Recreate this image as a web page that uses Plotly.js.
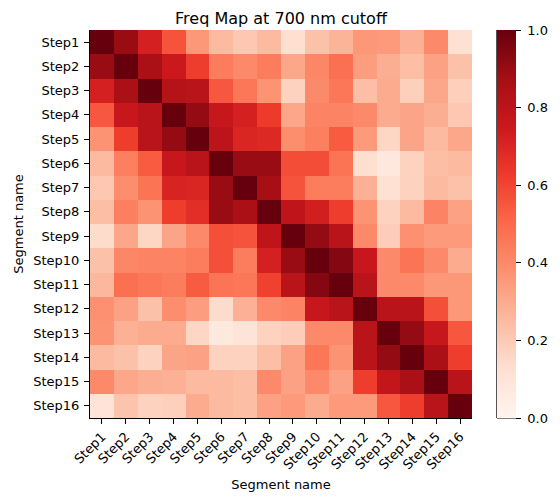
<!DOCTYPE html>
<html>
<head>
<meta charset="utf-8">
<script src="https://cdn.plot.ly/plotly-3.0.1.min.js"></script>
<style>
  html, body { margin: 0; padding: 0; background: #fff; }
  #chart { width: 560px; height: 502px; }
</style>
</head>
<body>
<div id="chart"></div>
<script>
// Segment labels (shared by both axes)
const segments = ["Step1", "Step2", "Step3", "Step4", "Step5", "Step6", "Step7", "Step8",
                  "Step9", "Step10", "Step11", "Step12", "Step13", "Step14", "Step15", "Step16"];

// Frequency similarity rows, one per segment
const step1  = [1.00, 0.90, 0.72, 0.56, 0.36, 0.25, 0.21, 0.25, 0.13, 0.23, 0.27, 0.36, 0.35, 0.28, 0.40, 0.12];
const step2  = [0.90, 1.00, 0.86, 0.75, 0.62, 0.44, 0.40, 0.44, 0.31, 0.41, 0.48, 0.34, 0.29, 0.24, 0.33, 0.23];
const step3  = [0.72, 0.86, 1.00, 0.82, 0.81, 0.55, 0.46, 0.37, 0.17, 0.40, 0.46, 0.24, 0.30, 0.18, 0.31, 0.18];
const step4  = [0.55, 0.76, 0.81, 1.00, 0.91, 0.77, 0.72, 0.63, 0.31, 0.42, 0.42, 0.40, 0.30, 0.32, 0.29, 0.21];
const step5  = [0.37, 0.62, 0.81, 0.91, 1.00, 0.80, 0.70, 0.69, 0.39, 0.43, 0.54, 0.35, 0.16, 0.32, 0.25, 0.31];
const step6  = [0.25, 0.43, 0.54, 0.76, 0.81, 1.00, 0.90, 0.90, 0.58, 0.58, 0.47, 0.13, 0.08, 0.17, 0.24, 0.25];
const step7  = [0.21, 0.39, 0.47, 0.71, 0.70, 0.90, 1.00, 0.87, 0.56, 0.44, 0.44, 0.28, 0.12, 0.17, 0.25, 0.23];
const step8  = [0.24, 0.43, 0.37, 0.62, 0.67, 0.90, 0.86, 1.00, 0.79, 0.73, 0.62, 0.37, 0.17, 0.25, 0.42, 0.33];
const step9  = [0.14, 0.31, 0.16, 0.32, 0.40, 0.57, 0.56, 0.79, 1.00, 0.91, 0.81, 0.40, 0.19, 0.38, 0.35, 0.35];
const step10 = [0.23, 0.41, 0.42, 0.42, 0.44, 0.57, 0.44, 0.72, 0.90, 1.00, 0.94, 0.76, 0.40, 0.47, 0.40, 0.30];
const step11 = [0.26, 0.48, 0.46, 0.44, 0.54, 0.47, 0.46, 0.61, 0.81, 0.94, 1.00, 0.81, 0.40, 0.40, 0.36, 0.36];
const step12 = [0.38, 0.33, 0.23, 0.39, 0.34, 0.14, 0.28, 0.40, 0.42, 0.76, 0.81, 1.00, 0.81, 0.81, 0.57, 0.36];
const step13 = [0.37, 0.28, 0.30, 0.30, 0.16, 0.07, 0.10, 0.17, 0.19, 0.40, 0.40, 0.81, 1.00, 0.91, 0.77, 0.55];
const step14 = [0.25, 0.23, 0.17, 0.32, 0.33, 0.17, 0.17, 0.24, 0.33, 0.46, 0.37, 0.81, 0.91, 1.00, 0.86, 0.62];
const step15 = [0.40, 0.31, 0.29, 0.28, 0.25, 0.25, 0.24, 0.40, 0.33, 0.40, 0.33, 0.62, 0.78, 0.86, 1.00, 0.81];
const step16 = [0.11, 0.22, 0.17, 0.18, 0.30, 0.25, 0.24, 0.33, 0.35, 0.30, 0.35, 0.35, 0.55, 0.62, 0.81, 1.00];

const freqMatrix = [step1, step2, step3, step4, step5, step6, step7, step8,
                    step9, step10, step11, step12, step13, step14, step15, step16];

// Sequential white-to-dark-red scale
const redScale = [
  [0.0,   "#fff5f0"],
  [0.125, "#fee0d2"],
  [0.25,  "#fcbba1"],
  [0.375, "#fc9272"],
  [0.5,   "#fb6a4a"],
  [0.625, "#ef3b2c"],
  [0.75,  "#cb181d"],
  [0.875, "#a50f15"],
  [1.0,   "#67000d"]
];

const font = "DejaVu Sans, sans-serif";
const cbX = 1.065;          // colorbar left edge (paper units)
const cbW = 0.05;           // colorbar width (paper units)

const trace = {
  type: "heatmap",
  z: freqMatrix,
  x: segments,
  y: segments,
  zmin: 0,
  zmax: 1,
  colorscale: redScale,
  hoverongaps: false,
  colorbar: {
    x: cbX,
    xanchor: "left",
    xpad: 0,
    y: 0,
    yanchor: "bottom",
    ypad: 0,
    len: 1,
    lenmode: "fraction",
    thickness: 19,
    thicknessmode: "pixels",
    outlinewidth: 0,
    ticks: "outside",
    ticklen: 5,
    tickwidth: 1,
    tickcolor: "#000",
    tick0: 0,
    dtick: 0.2,
    tickformat: ".1f",
    tickprefix: " ",
    tickfont: { family: font, size: 13, color: "#000" }
  }
};

const layout = {
  width: 560,
  height: 502,
  margin: { l: 90, r: 85, t: 30, b: 84 },
  paper_bgcolor: "#fff",
  plot_bgcolor: "#fff",
  title: {
    text: "Freq Map at 700 nm cutoff",
    font: { family: font, size: 16, color: "#000" },
    x: 0.5, xref: "paper", xanchor: "center",
    y: 1 - 18 / 502, yref: "container", yanchor: "middle"
  },
  xaxis: {
    type: "category",
    tickangle: -45,
    ticks: "outside",
    ticklen: 5,
    tickcolor: "#000",
    showline: true,
    linecolor: "#000",
    linewidth: 1,
    showgrid: false,
    zeroline: false,
    tickfont: { family: font, size: 13, color: "#000" },
    title: { text: "Segment name", font: { family: font, size: 13, color: "#000" }, standoff: 8 }
  },
  yaxis: {
    type: "category",
    autorange: "reversed",
    ticks: "outside",
    ticklen: 5,
    ticklabelstandoff: 2,
    tickcolor: "#000",
    showline: true,
    linecolor: "#000",
    linewidth: 1,
    showgrid: false,
    zeroline: false,
    tickfont: { family: font, size: 13, color: "#000" },
    title: { text: "Segment name", font: { family: font, size: 13, color: "#000" }, standoff: 6 }
  },
  shapes: [
    // colorbar left and bottom edges
    { type: "line", xref: "paper", yref: "paper", x0: cbX, x1: cbX, y0: 0, y1: 1,
      line: { color: "#000", width: 1 } },
    { type: "line", xref: "paper", yref: "paper", x0: cbX, x1: cbX + cbW, y0: 0, y1: 0,
      line: { color: "#000", width: 1 } }
  ]
};

Plotly.newPlot("chart", [trace], layout, { displayModeBar: false, staticPlot: true });
</script>
</body>
</html>
